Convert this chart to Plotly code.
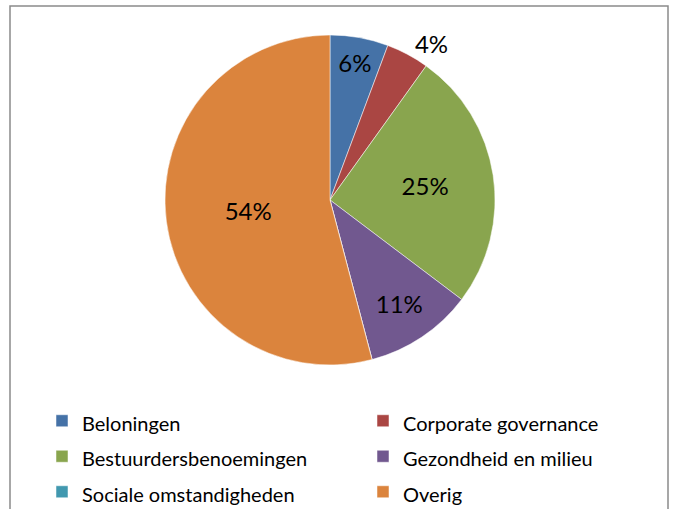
import plotly.graph_objects as go

labels = ["Beloningen", "Corporate governance", "Bestuurdersbenoemingen",
          "Gezondheid en milieu", "Sociale omstandigheden", "Overig"]
values = [5.7, 4.2, 25.4, 10.6, 0.0, 54.1]
colors = ["#4572A7", "#AA4643", "#89A54E", "#71588F", "#4198AF", "#DB843D"]
text_positions = ["inside", "outside", "inside", "inside", "none", "inside"]

W, H = 673, 509

def fx(x):
    return x / W

def fy(y):
    return 1 - y / H

legend_labels = ['<span style="font-size:20px">%s</span>' % l for l in labels]

# pie: centre (330, 200), radius 165 px
fig = go.Figure(go.Pie(
    labels=legend_labels,
    values=values,
    sort=False,
    direction="clockwise",
    rotation=0,
    domain=dict(x=[fx(165), fx(495)], y=[fy(365), fy(35)]),
    marker=dict(colors=colors, line=dict(color="white", width=0.5)),
    texttemplate="%{percent:.0%}",
    textposition=text_positions,
    insidetextorientation="horizontal",
    textfont=dict(family="Lato", size=24, color="black"),
    outsidetextfont=dict(family="Lato", size=24, color="black"),
    hoverinfo="label+percent",
))

fig.add_shape(type="rect", xref="paper", yref="paper",
              x0=fx(10), x1=fx(668), y0=fy(530), y1=fy(6),
              line=dict(color="#8a8a8a", width=1.5), fillcolor="rgba(0,0,0,0)", layer="below")

fig.update_layout(
    width=W, height=H,
    margin=dict(l=0, r=0, t=0, b=0, autoexpand=False),
    paper_bgcolor="white", plot_bgcolor="white",
    font=dict(family="Lato", color="black"),
    showlegend=True,
    legend=dict(orientation="h", entrywidth=276, entrywidthmode="pixels",
                x=fx(42), y=fy(398), xanchor="left", yanchor="top",
                bgcolor="rgba(0,0,0,0)",
                font=dict(family="Lato", size=25, color="black"),
                traceorder="normal"),
)

fig.write_html("out.html",
               config={"displayModeBar": False},
               post_script="document.body.style.margin='0';document.body.style.overflow='hidden';")
